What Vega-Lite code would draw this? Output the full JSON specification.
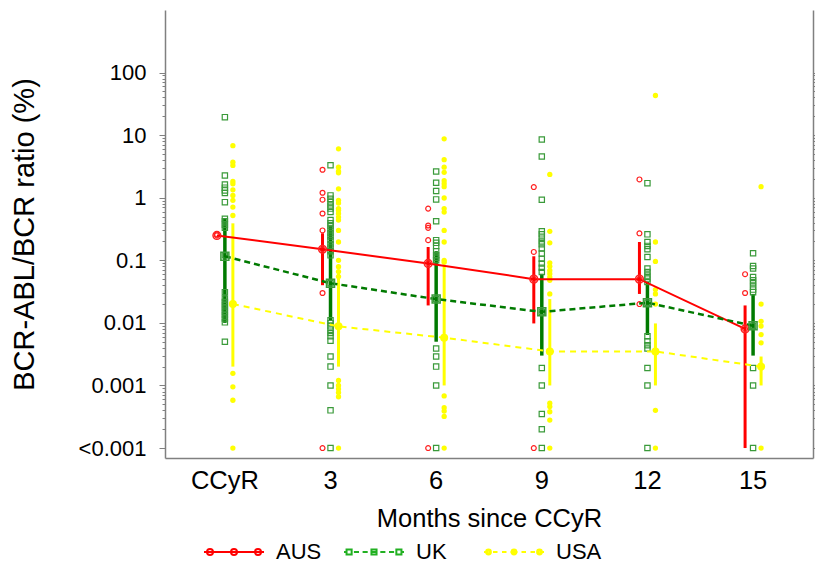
{
  "$schema": "https://vega.github.io/schema/vega-lite/v6.json",
  "width": 648,
  "height": 448,
  "autosize": {"type": "none"},
  "padding": {"left": 165, "top": 10, "right": 2, "bottom": 113},
  "config": {
    "view": {"stroke": null},
    "axis": {"labelFont": "Liberation Sans", "titleFont": "Liberation Sans", "labelColor": "#000000", "titleColor": "#000000", "titleFontWeight": "normal", "domainColor": "#808080", "tickColor": "#808080", "domainWidth": 1.5, "grid": false},
    "legend": {"labelFont": "Liberation Sans", "labelColor": "#000000"}
  },
  "datasets": {
    "pts": [
      {"month": "CCyR", "country": "AUS", "value": 0.25},
      {"month": "CCyR", "country": "AUS", "value": 0.26},
      {"month": "3", "country": "AUS", "value": 2.8},
      {"month": "3", "country": "AUS", "value": 1.2},
      {"month": "3", "country": "AUS", "value": 0.93},
      {"month": "3", "country": "AUS", "value": 0.56},
      {"month": "3", "country": "AUS", "value": 0.3},
      {"month": "3", "country": "AUS", "value": 0.15},
      {"month": "3", "country": "AUS", "value": 0.03},
      {"month": "3", "country": "AUS", "value": 0.0001},
      {"month": "6", "country": "AUS", "value": 0.67},
      {"month": "6", "country": "AUS", "value": 0.36},
      {"month": "6", "country": "AUS", "value": 0.33},
      {"month": "6", "country": "AUS", "value": 0.21},
      {"month": "6", "country": "AUS", "value": 0.09},
      {"month": "6", "country": "AUS", "value": 0.0001},
      {"month": "9", "country": "AUS", "value": 1.48},
      {"month": "9", "country": "AUS", "value": 0.136},
      {"month": "9", "country": "AUS", "value": 0.05},
      {"month": "9", "country": "AUS", "value": 0.0001},
      {"month": "12", "country": "AUS", "value": 1.96},
      {"month": "12", "country": "AUS", "value": 0.27},
      {"month": "12", "country": "AUS", "value": 0.05},
      {"month": "12", "country": "AUS", "value": 0.02},
      {"month": "15", "country": "AUS", "value": 0.06},
      {"month": "15", "country": "AUS", "value": 0.03},
      {"month": "15", "country": "AUS", "value": 0.008},

      {"month": "CCyR", "country": "UK", "value": 19.4},
      {"month": "CCyR", "country": "UK", "value": 2.27},
      {"month": "CCyR", "country": "UK", "value": 1.63},
      {"month": "CCyR", "country": "UK", "value": 1.45},
      {"month": "CCyR", "country": "UK", "value": 1.31},
      {"month": "CCyR", "country": "UK", "value": 1.19},
      {"month": "CCyR", "country": "UK", "value": 0.85},
      {"month": "CCyR", "country": "UK", "value": 0.46},
      {"month": "CCyR", "country": "UK", "value": 0.42},
      {"month": "CCyR", "country": "UK", "value": 0.37},
      {"month": "CCyR", "country": "UK", "value": 0.33},
      {"month": "CCyR", "country": "UK", "value": 0.12},
      {"month": "CCyR", "country": "UK", "value": 0.031},
      {"month": "CCyR", "country": "UK", "value": 0.0245},
      {"month": "CCyR", "country": "UK", "value": 0.0216},
      {"month": "CCyR", "country": "UK", "value": 0.0191},
      {"month": "CCyR", "country": "UK", "value": 0.0169},
      {"month": "CCyR", "country": "UK", "value": 0.015},
      {"month": "CCyR", "country": "UK", "value": 0.0132},
      {"month": "CCyR", "country": "UK", "value": 0.0117},
      {"month": "CCyR", "country": "UK", "value": 0.0102},
      {"month": "CCyR", "country": "UK", "value": 0.005},
      {"month": "3", "country": "UK", "value": 3.3},
      {"month": "3", "country": "UK", "value": 1.09},
      {"month": "3", "country": "UK", "value": 0.96},
      {"month": "3", "country": "UK", "value": 0.85},
      {"month": "3", "country": "UK", "value": 0.75},
      {"month": "3", "country": "UK", "value": 0.67},
      {"month": "3", "country": "UK", "value": 0.59},
      {"month": "3", "country": "UK", "value": 0.44},
      {"month": "3", "country": "UK", "value": 0.39},
      {"month": "3", "country": "UK", "value": 0.35},
      {"month": "3", "country": "UK", "value": 0.31},
      {"month": "3", "country": "UK", "value": 0.27},
      {"month": "3", "country": "UK", "value": 0.24},
      {"month": "3", "country": "UK", "value": 0.21},
      {"month": "3", "country": "UK", "value": 0.18},
      {"month": "3", "country": "UK", "value": 0.16},
      {"month": "3", "country": "UK", "value": 0.14},
      {"month": "3", "country": "UK", "value": 0.12},
      {"month": "3", "country": "UK", "value": 0.043},
      {"month": "3", "country": "UK", "value": 0.011},
      {"month": "3", "country": "UK", "value": 0.0099},
      {"month": "3", "country": "UK", "value": 0.0088},
      {"month": "3", "country": "UK", "value": 0.0078},
      {"month": "3", "country": "UK", "value": 0.0069},
      {"month": "3", "country": "UK", "value": 0.0061},
      {"month": "3", "country": "UK", "value": 0.0052},
      {"month": "3", "country": "UK", "value": 0.0029},
      {"month": "3", "country": "UK", "value": 0.002},
      {"month": "3", "country": "UK", "value": 0.001},
      {"month": "3", "country": "UK", "value": 0.0004},
      {"month": "3", "country": "UK", "value": 0.0001},
      {"month": "6", "country": "UK", "value": 2.63},
      {"month": "6", "country": "UK", "value": 1.74},
      {"month": "6", "country": "UK", "value": 1.28},
      {"month": "6", "country": "UK", "value": 0.94},
      {"month": "6", "country": "UK", "value": 0.42},
      {"month": "6", "country": "UK", "value": 0.21},
      {"month": "6", "country": "UK", "value": 0.19},
      {"month": "6", "country": "UK", "value": 0.17},
      {"month": "6", "country": "UK", "value": 0.14},
      {"month": "6", "country": "UK", "value": 0.12},
      {"month": "6", "country": "UK", "value": 0.11},
      {"month": "6", "country": "UK", "value": 0.1},
      {"month": "6", "country": "UK", "value": 0.024},
      {"month": "6", "country": "UK", "value": 0.0039},
      {"month": "6", "country": "UK", "value": 0.0029},
      {"month": "6", "country": "UK", "value": 0.002},
      {"month": "6", "country": "UK", "value": 0.001},
      {"month": "6", "country": "UK", "value": 0.0001},
      {"month": "9", "country": "UK", "value": 8.5},
      {"month": "9", "country": "UK", "value": 4.56},
      {"month": "9", "country": "UK", "value": 0.93},
      {"month": "9", "country": "UK", "value": 0.29},
      {"month": "9", "country": "UK", "value": 0.26},
      {"month": "9", "country": "UK", "value": 0.23},
      {"month": "9", "country": "UK", "value": 0.2},
      {"month": "9", "country": "UK", "value": 0.18},
      {"month": "9", "country": "UK", "value": 0.154},
      {"month": "9", "country": "UK", "value": 0.128},
      {"month": "9", "country": "UK", "value": 0.106},
      {"month": "9", "country": "UK", "value": 0.089},
      {"month": "9", "country": "UK", "value": 0.076},
      {"month": "9", "country": "UK", "value": 0.065},
      {"month": "9", "country": "UK", "value": 0.015},
      {"month": "9", "country": "UK", "value": 0.0019},
      {"month": "9", "country": "UK", "value": 0.001},
      {"month": "9", "country": "UK", "value": 0.00035},
      {"month": "9", "country": "UK", "value": 0.0002},
      {"month": "9", "country": "UK", "value": 0.0001},
      {"month": "12", "country": "UK", "value": 1.71},
      {"month": "12", "country": "UK", "value": 0.26},
      {"month": "12", "country": "UK", "value": 0.196},
      {"month": "12", "country": "UK", "value": 0.17},
      {"month": "12", "country": "UK", "value": 0.15},
      {"month": "12", "country": "UK", "value": 0.113},
      {"month": "12", "country": "UK", "value": 0.074},
      {"month": "12", "country": "UK", "value": 0.065},
      {"month": "12", "country": "UK", "value": 0.057},
      {"month": "12", "country": "UK", "value": 0.051},
      {"month": "12", "country": "UK", "value": 0.045},
      {"month": "12", "country": "UK", "value": 0.021},
      {"month": "12", "country": "UK", "value": 0.0061},
      {"month": "12", "country": "UK", "value": 0.0051},
      {"month": "12", "country": "UK", "value": 0.0044},
      {"month": "12", "country": "UK", "value": 0.0039},
      {"month": "12", "country": "UK", "value": 0.0019},
      {"month": "12", "country": "UK", "value": 0.001},
      {"month": "12", "country": "UK", "value": 0.0001},
      {"month": "15", "country": "UK", "value": 0.13},
      {"month": "15", "country": "UK", "value": 0.081},
      {"month": "15", "country": "UK", "value": 0.074},
      {"month": "15", "country": "UK", "value": 0.054},
      {"month": "15", "country": "UK", "value": 0.048},
      {"month": "15", "country": "UK", "value": 0.043},
      {"month": "15", "country": "UK", "value": 0.038},
      {"month": "15", "country": "UK", "value": 0.034},
      {"month": "15", "country": "UK", "value": 0.031},
      {"month": "15", "country": "UK", "value": 0.009},
      {"month": "15", "country": "UK", "value": 0.0019},
      {"month": "15", "country": "UK", "value": 0.001},
      {"month": "15", "country": "UK", "value": 0.0001},

      {"month": "CCyR", "country": "USA", "value": 6.8},
      {"month": "CCyR", "country": "USA", "value": 3.7},
      {"month": "CCyR", "country": "USA", "value": 3.28},
      {"month": "CCyR", "country": "USA", "value": 1.82},
      {"month": "CCyR", "country": "USA", "value": 1.67},
      {"month": "CCyR", "country": "USA", "value": 1.34},
      {"month": "CCyR", "country": "USA", "value": 1.09},
      {"month": "CCyR", "country": "USA", "value": 0.91},
      {"month": "CCyR", "country": "USA", "value": 0.71},
      {"month": "CCyR", "country": "USA", "value": 0.52},
      {"month": "CCyR", "country": "USA", "value": 0.02},
      {"month": "CCyR", "country": "USA", "value": 0.00156},
      {"month": "CCyR", "country": "USA", "value": 0.00095},
      {"month": "CCyR", "country": "USA", "value": 0.00058},
      {"month": "CCyR", "country": "USA", "value": 0.0001},
      {"month": "3", "country": "USA", "value": 6.05},
      {"month": "3", "country": "USA", "value": 3.08},
      {"month": "3", "country": "USA", "value": 2.66},
      {"month": "3", "country": "USA", "value": 2.5},
      {"month": "3", "country": "USA", "value": 1.39},
      {"month": "3", "country": "USA", "value": 0.91},
      {"month": "3", "country": "USA", "value": 0.82},
      {"month": "3", "country": "USA", "value": 0.67},
      {"month": "3", "country": "USA", "value": 0.63},
      {"month": "3", "country": "USA", "value": 0.56},
      {"month": "3", "country": "USA", "value": 0.49},
      {"month": "3", "country": "USA", "value": 0.44},
      {"month": "3", "country": "USA", "value": 0.3},
      {"month": "3", "country": "USA", "value": 0.196},
      {"month": "3", "country": "USA", "value": 0.1},
      {"month": "3", "country": "USA", "value": 0.079},
      {"month": "3", "country": "USA", "value": 0.066},
      {"month": "3", "country": "USA", "value": 0.055},
      {"month": "3", "country": "USA", "value": 0.009},
      {"month": "3", "country": "USA", "value": 0.0012},
      {"month": "3", "country": "USA", "value": 0.001},
      {"month": "3", "country": "USA", "value": 0.00088},
      {"month": "3", "country": "USA", "value": 0.00077},
      {"month": "3", "country": "USA", "value": 0.00066},
      {"month": "3", "country": "USA", "value": 0.0001},
      {"month": "6", "country": "USA", "value": 8.75},
      {"month": "6", "country": "USA", "value": 4.05},
      {"month": "6", "country": "USA", "value": 3.08},
      {"month": "6", "country": "USA", "value": 2.55},
      {"month": "6", "country": "USA", "value": 1.87},
      {"month": "6", "country": "USA", "value": 1.68},
      {"month": "6", "country": "USA", "value": 1.5},
      {"month": "6", "country": "USA", "value": 0.99},
      {"month": "6", "country": "USA", "value": 0.67},
      {"month": "6", "country": "USA", "value": 0.59},
      {"month": "6", "country": "USA", "value": 0.3},
      {"month": "6", "country": "USA", "value": 0.196},
      {"month": "6", "country": "USA", "value": 0.1},
      {"month": "6", "country": "USA", "value": 0.093},
      {"month": "6", "country": "USA", "value": 0.006},
      {"month": "6", "country": "USA", "value": 0.00068},
      {"month": "6", "country": "USA", "value": 0.00044},
      {"month": "6", "country": "USA", "value": 0.00039},
      {"month": "6", "country": "USA", "value": 0.00032},
      {"month": "6", "country": "USA", "value": 0.0001},
      {"month": "9", "country": "USA", "value": 2.36},
      {"month": "9", "country": "USA", "value": 0.29},
      {"month": "9", "country": "USA", "value": 0.19},
      {"month": "9", "country": "USA", "value": 0.091},
      {"month": "9", "country": "USA", "value": 0.08},
      {"month": "9", "country": "USA", "value": 0.069},
      {"month": "9", "country": "USA", "value": 0.061},
      {"month": "9", "country": "USA", "value": 0.054},
      {"month": "9", "country": "USA", "value": 0.048},
      {"month": "9", "country": "USA", "value": 0.029},
      {"month": "9", "country": "USA", "value": 0.0035},
      {"month": "9", "country": "USA", "value": 0.00052},
      {"month": "9", "country": "USA", "value": 0.00046},
      {"month": "9", "country": "USA", "value": 0.00038},
      {"month": "9", "country": "USA", "value": 0.00028},
      {"month": "9", "country": "USA", "value": 0.0001},
      {"month": "12", "country": "USA", "value": 43},
      {"month": "12", "country": "USA", "value": 0.196},
      {"month": "12", "country": "USA", "value": 0.096},
      {"month": "12", "country": "USA", "value": 0.034},
      {"month": "12", "country": "USA", "value": 0.029},
      {"month": "12", "country": "USA", "value": 0.02},
      {"month": "12", "country": "USA", "value": 0.0035},
      {"month": "12", "country": "USA", "value": 0.0004},
      {"month": "12", "country": "USA", "value": 0.0001},
      {"month": "15", "country": "USA", "value": 1.5},
      {"month": "15", "country": "USA", "value": 0.02},
      {"month": "15", "country": "USA", "value": 0.0106},
      {"month": "15", "country": "USA", "value": 0.0089},
      {"month": "15", "country": "USA", "value": 0.0065},
      {"month": "15", "country": "USA", "value": 0.0048},
      {"month": "15", "country": "USA", "value": 0.002},
      {"month": "15", "country": "USA", "value": 0.0001}
    ],
    "sum": [
      {"month": "CCyR", "country": "AUS", "median": 0.25, "lo": null, "hi": null},
      {"month": "3", "country": "AUS", "median": 0.15, "lo": 0.04, "hi": 0.27},
      {"month": "6", "country": "AUS", "median": 0.089, "lo": 0.019, "hi": 0.163},
      {"month": "9", "country": "AUS", "median": 0.05, "lo": 0.0098, "hi": 0.116},
      {"month": "12", "country": "AUS", "median": 0.05, "lo": 0.029, "hi": 0.196},
      {"month": "15", "country": "AUS", "median": 0.008, "lo": 0.0001, "hi": 0.019},
      {"month": "CCyR", "country": "UK", "median": 0.116, "lo": 0.01, "hi": 0.46},
      {"month": "3", "country": "UK", "median": 0.043, "lo": 0.011, "hi": 0.36},
      {"month": "6", "country": "UK", "median": 0.024, "lo": 0.005, "hi": 0.14},
      {"month": "9", "country": "UK", "median": 0.015, "lo": 0.003, "hi": 0.061},
      {"month": "12", "country": "UK", "median": 0.021, "lo": 0.0064, "hi": 0.045},
      {"month": "15", "country": "UK", "median": 0.009, "lo": 0.003, "hi": 0.029},
      {"month": "CCyR", "country": "USA", "median": 0.02, "lo": 0.002, "hi": 0.39},
      {"month": "3", "country": "USA", "median": 0.0088, "lo": 0.002, "hi": 0.061},
      {"month": "6", "country": "USA", "median": 0.0058, "lo": 0.001, "hi": 0.083},
      {"month": "9", "country": "USA", "median": 0.0035, "lo": 0.001, "hi": 0.024},
      {"month": "12", "country": "USA", "median": 0.0035, "lo": 0.001, "hi": 0.0098},
      {"month": "15", "country": "USA", "median": 0.002, "lo": 0.001, "hi": 0.0029}
    ]
  },
  "resolve": {"axis": {"y": "independent"}},
  "layer": [
    {
      "encoding": {
        "x": {"field": "month", "type": "ordinal", "sort": ["CCyR", "3", "6", "9", "12", "15"], "title": "Months since CCyR",
          "scale": {"type": "band", "domain": ["CCyR", "3", "6", "9", "12", "15"], "paddingInner": 0, "paddingOuter": 0.067},
          "axis": {"labelAngle": 0, "ticks": false, "labelPadding": 10, "labelFontSize": 25.5, "titleFontSize": 25.5, "titlePadding": 13}},
        "xOffset": {"field": "country", "type": "nominal", "scale": {"type": "band", "domain": ["AUS", "UK", "USA"], "range": [40.8, 64.8], "paddingInner": 0, "paddingOuter": 0}}
      },
      "layer": [
        {
          "data": {"name": "sum"},
          "transform": [{"filter": "datum.country === 'AUS' && isValid(datum.lo)"}],
          "mark": {"type": "rule", "color": "#ff0000", "strokeWidth": 3},
          "encoding": {
            "y": {"field": "lo", "type": "quantitative", "title": "BCR-ABL/BCR ratio (%)",
              "scale": {"type": "log", "domain": [0.0000693, 1000], "nice": false},
              "axis": {
                "orient": "left",
                "values": [0.0001, 0.0002, 0.0003, 0.0004, 0.0005, 0.0006, 0.0007, 0.0008, 0.0009, 0.001, 0.002, 0.003, 0.004, 0.005, 0.006, 0.007, 0.008, 0.009, 0.01, 0.02, 0.03, 0.04, 0.05, 0.06, 0.07, 0.08, 0.09, 0.1, 0.2, 0.3, 0.4, 0.5, 0.6, 0.7, 0.8, 0.9, 1, 2, 3, 4, 5, 6, 7, 8, 9, 10, 20, 30, 40, 50, 60, 70, 80, 90, 100],
                "labelExpr": "indexof([0.0001,0.001,0.01,0.1,1,10,100], datum.value) >= 0 ? (datum.value < 0.0005 ? '<0.001' : '' + datum.value) : ''",
                "tickSize": {"condition": {"test": "indexof([0.0001,0.001,0.01,0.1,1,10,100], datum.value) >= 0", "value": 6}, "value": 3},
                "labelFontSize": 22, "labelPadding": 13, "titleFontSize": 29, "titlePadding": 39, "labelOverlap": false, "labelBound": false
              }},
            "y2": {"field": "hi"}
          }
        },
        {
          "data": {"name": "sum"},
          "transform": [{"filter": "datum.country === 'UK'"}],
          "mark": {"type": "rule", "color": "#007a00", "strokeWidth": 3.5},
          "encoding": {"y": {"field": "lo", "type": "quantitative", "title": "BCR-ABL/BCR ratio (%)"}, "y2": {"field": "hi"}}
        },
        {
          "data": {"name": "sum"},
          "transform": [{"filter": "datum.country === 'USA'"}],
          "mark": {"type": "rule", "color": "#ffff00", "strokeWidth": 3},
          "encoding": {"y": {"field": "lo", "type": "quantitative", "title": "BCR-ABL/BCR ratio (%)"}, "y2": {"field": "hi"}}
        },
        {
          "data": {"name": "pts"},
          "transform": [{"filter": "datum.country === 'AUS'"}],
          "mark": {"type": "point", "shape": "circle", "filled": false, "color": "#ff2020", "strokeWidth": 1.2, "size": 24, "opacity": 1},
          "encoding": {"y": {"field": "value", "type": "quantitative", "title": "BCR-ABL/BCR ratio (%)"}}
        },
        {
          "data": {"name": "pts"},
          "transform": [{"filter": "datum.country === 'UK'"}],
          "mark": {"type": "point", "shape": "square", "filled": false, "color": "#3a9a3a", "strokeWidth": 1.2, "size": 28, "opacity": 1},
          "encoding": {"y": {"field": "value", "type": "quantitative", "title": "BCR-ABL/BCR ratio (%)"}}
        },
        {
          "data": {"name": "pts"},
          "transform": [{"filter": "datum.country === 'USA'"}],
          "mark": {"type": "point", "shape": "circle", "filled": true, "color": "#ffff00", "size": 28, "opacity": 1},
          "encoding": {"y": {"field": "value", "type": "quantitative", "title": "BCR-ABL/BCR ratio (%)"}}
        },
        {
          "data": {"name": "sum"},
          "transform": [{"filter": "datum.country === 'AUS'"}],
          "mark": {"type": "line", "color": "#ff0000", "strokeWidth": 2},
          "encoding": {"y": {"field": "median", "type": "quantitative", "title": "BCR-ABL/BCR ratio (%)"}, "order": {"value": null}}
        },
        {
          "data": {"name": "sum"},
          "transform": [{"filter": "datum.country === 'UK'"}],
          "mark": {"type": "line", "color": "#007a00", "strokeWidth": 2.5, "strokeDash": [6, 4]},
          "encoding": {"y": {"field": "median", "type": "quantitative", "title": "BCR-ABL/BCR ratio (%)"}, "order": {"value": null}}
        },
        {
          "data": {"name": "sum"},
          "transform": [{"filter": "datum.country === 'USA'"}],
          "mark": {"type": "line", "color": "#ffff00", "strokeWidth": 2, "strokeDash": [6, 5]},
          "encoding": {"y": {"field": "median", "type": "quantitative", "title": "BCR-ABL/BCR ratio (%)"}, "order": {"value": null}}
        },
        {
          "data": {"name": "sum"},
          "transform": [{"filter": "datum.country === 'AUS'"}],
          "mark": {"type": "point", "shape": "circle", "filled": false, "color": "#ff2020", "strokeWidth": 1.5, "size": 60, "opacity": 1},
          "encoding": {"y": {"field": "median", "type": "quantitative", "title": "BCR-ABL/BCR ratio (%)"}}
        },
        {
          "data": {"name": "sum"},
          "transform": [{"filter": "datum.country === 'UK'"}],
          "mark": {"type": "point", "shape": "square", "filled": false, "color": "#3a9a3a", "strokeWidth": 1.5, "size": 64, "opacity": 1},
          "encoding": {"y": {"field": "median", "type": "quantitative", "title": "BCR-ABL/BCR ratio (%)"}}
        },
        {
          "data": {"name": "sum"},
          "transform": [{"filter": "datum.country === 'USA'"}],
          "mark": {"type": "point", "shape": "circle", "filled": true, "color": "#ffff00", "size": 64, "opacity": 1},
          "encoding": {"y": {"field": "median", "type": "quantitative", "title": "BCR-ABL/BCR ratio (%)"}}
        },
        {
          "data": {"name": "sum"},
          "transform": [{"filter": "datum.month === 'CCyR'"}],
          "mark": {"type": "point", "filled": false, "opacity": 0},
          "encoding": {
            "y": {"field": "median", "type": "quantitative", "title": "BCR-ABL/BCR ratio (%)"},
            "color": {"field": "country", "type": "nominal",
              "scale": {"domain": ["AUS", "UK", "USA"], "range": ["#ff0000", "#22b022", "#ffff00"]},
              "legend": {"orient": "none", "legendX": 38, "legendY": 511, "direction": "horizontal", "columns": 3, "gridAlign": "all", "columnPadding": 18, "title": null, "symbolSize": 3600, "symbolStrokeWidth": 2, "symbolFillColor": "transparent", "symbolOpacity": 1, "labelFontSize": 22, "labelOffset": 11}},
            "shape": {"field": "country", "type": "nominal",
              "scale": {"domain": ["AUS", "UK", "USA"], "range": [
                "M-1,0L1,0M-0.7,0A0.1,0.1,0,1,1,-0.9,0A0.1,0.1,0,1,1,-0.7,0ZM0.1,0A0.1,0.1,0,1,1,-0.1,0A0.1,0.1,0,1,1,0.1,0ZM0.9,0A0.1,0.1,0,1,1,0.7,0A0.1,0.1,0,1,1,0.9,0Z",
                "M-0.915,-0.085H-0.745V0.085H-0.915ZM-0.085,-0.085H0.085V0.085H-0.085ZM0.745,-0.085H0.915V0.085H0.745ZM-1,0L-0.915,0M-0.67,0L-0.5,0M-0.38,0L-0.21,0M-0.1,0L0.1,0M0.21,0L0.38,0M0.5,0L0.67,0M0.915,0L1,0",
                "M-0.77,0A0.08,0.08,0,1,1,-0.93,0A0.08,0.08,0,1,1,-0.77,0ZM-0.8,0A0.05,0.05,0,1,1,-0.9,0A0.05,0.05,0,1,1,-0.8,0ZM-0.83,0A0.02,0.02,0,1,1,-0.87,0A0.02,0.02,0,1,1,-0.83,0ZM0.08,0A0.08,0.08,0,1,1,-0.08,0A0.08,0.08,0,1,1,0.08,0ZM0.05,0A0.05,0.05,0,1,1,-0.05,0A0.05,0.05,0,1,1,0.05,0ZM0.02,0A0.02,0.02,0,1,1,-0.02,0A0.02,0.02,0,1,1,0.02,0ZM0.93,0A0.08,0.08,0,1,1,0.77,0A0.08,0.08,0,1,1,0.93,0ZM0.9,0A0.05,0.05,0,1,1,0.8,0A0.05,0.05,0,1,1,0.9,0ZM0.87,0A0.02,0.02,0,1,1,0.83,0A0.02,0.02,0,1,1,0.87,0ZM-1,0L-0.85,0M-0.7,0L-0.55,0M-0.4,0L-0.25,0M-0.12,0L0.12,0M0.25,0L0.4,0M0.55,0L0.7,0M0.85,0L1,0"
              ]},
              "legend": {"orient": "none", "legendX": 38, "legendY": 511, "direction": "horizontal", "columns": 3, "gridAlign": "all", "columnPadding": 18, "title": null, "symbolSize": 3600, "symbolStrokeWidth": 2, "symbolFillColor": "transparent", "symbolOpacity": 1, "labelFontSize": 22, "labelOffset": 11}}
          }
        }
      ]
    },
    {
      "data": {"name": "pts"},
      "mark": {"type": "point", "opacity": 0},
      "encoding": {
        "y": {"field": "value", "type": "quantitative", "title": null,
          "axis": {"orient": "right", "labels": false, "title": null, "tickSize": 3,
            "values": [0.0001, 0.0002, 0.0003, 0.0004, 0.0005, 0.0006, 0.0007, 0.0008, 0.0009, 0.001, 0.002, 0.003, 0.004, 0.005, 0.006, 0.007, 0.008, 0.009, 0.01, 0.02, 0.03, 0.04, 0.05, 0.06, 0.07, 0.08, 0.09, 0.1, 0.2, 0.3, 0.4, 0.5, 0.6, 0.7, 0.8, 0.9, 1, 2, 3, 4, 5, 6, 7, 8, 9, 10, 20, 30, 40, 50, 60, 70, 80, 90, 100]}}
      }
    }
  ]
}
